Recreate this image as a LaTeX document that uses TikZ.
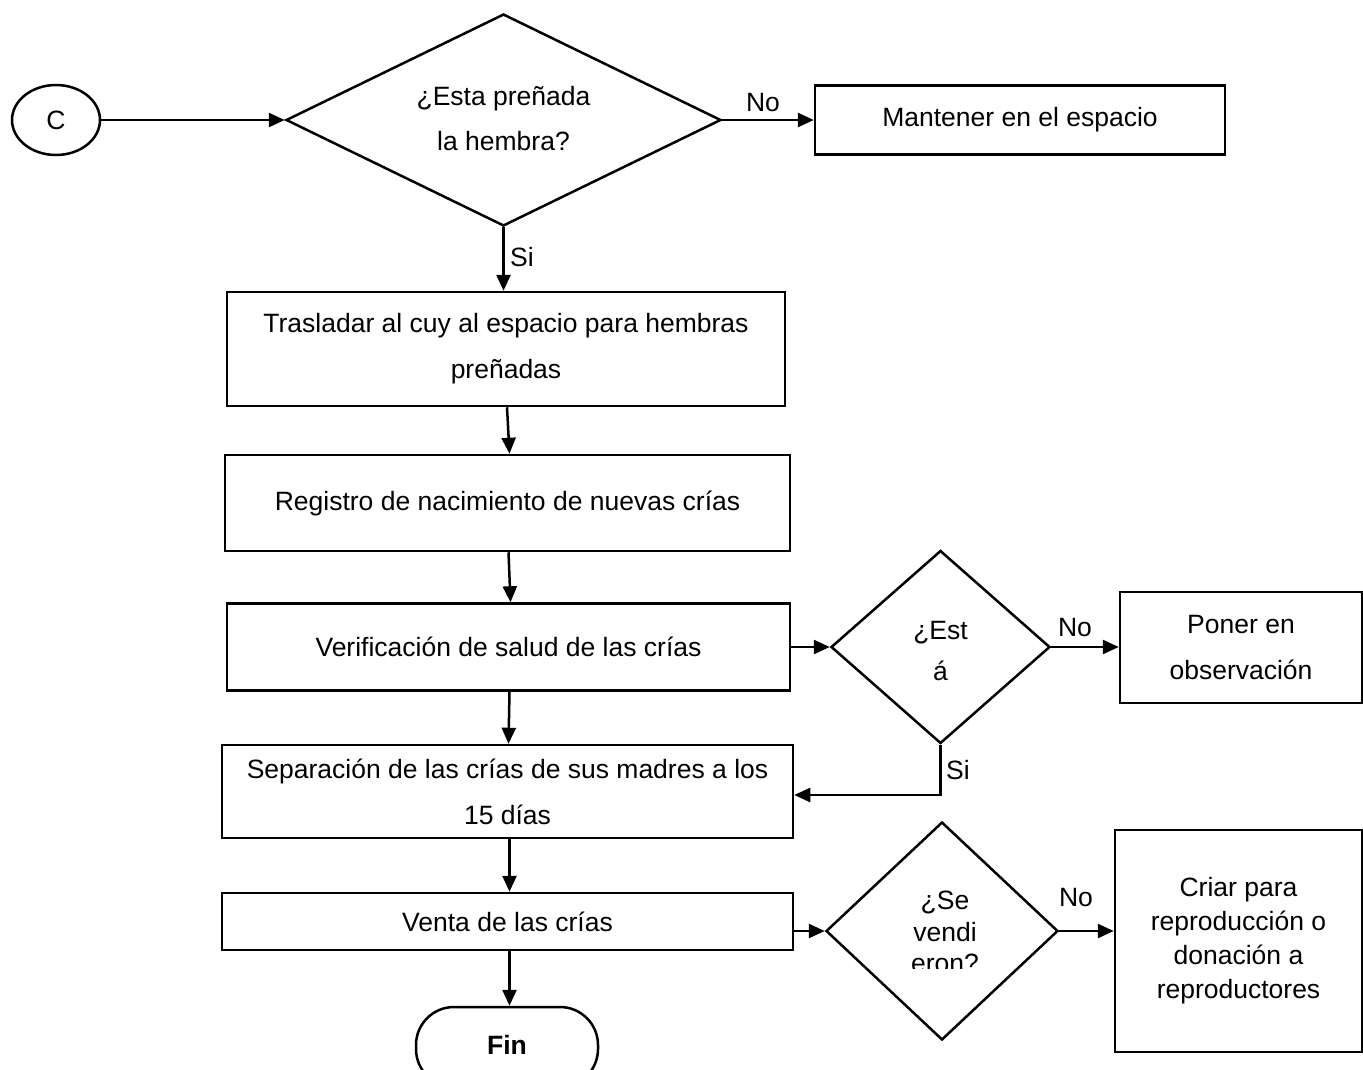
\documentclass[tikz,border=0pt]{standalone}
\usepackage{fontspec}
\setmainfont{Liberation Sans}
\usetikzlibrary{shapes.geometric,arrows.meta,calc}
\begin{document}
\begin{tikzpicture}[x=1pt,y=-1pt,
 every node/.style={font=\fontsize{26.5}{46}\selectfont, inner sep=0pt},
 box/.style={draw, line width=2.5pt, align=center},
 dia/.style={draw, diamond, line width=2.5pt, align=center},
 arr/.style={line width=2.5pt, -{Triangle[length=16pt,width=14pt]}}]
\useasboundingbox (0,0) rectangle (1363,1069);
\clip (0,0) rectangle (1363,1069);

% start
\node[draw, ellipse, line width=2.5pt, minimum width=88pt, minimum height=70pt] (c) at (56,120) {C};

% decision 1
\node[dia, minimum width=435pt, minimum height=212pt] (d1) at (503.5,120) {};
\node[align=center, font=\fontsize{26.5}{45}\selectfont] (d1t) at (503.5,119) {¿Esta preñada\\la hembra?};
\node[box, minimum width=410pt, minimum height=69pt] (m) at (1020,120) {Mantener en el espacio};

% process boxes
\node[box, minimum width=558pt, minimum height=114pt] (t) at (506,349) {Trasladar al cuy al espacio para hembras\\preñadas};
\node[box, minimum width=565pt, minimum height=96pt] (r) at (507.5,503) {Registro de nacimiento de nuevas crías};
\node[box, minimum width=563pt, minimum height=87pt] (v) at (508.5,647) {Verificación de salud de las crías};
\node[box, minimum width=571pt, minimum height=93pt] (s) at (507.5,791.5) {Separación de las crías de sus madres a los\\15 días};
\node[box, minimum width=571pt, minimum height=57pt] (ve) at (507.5,921.5) {Venta de las crías};

% decision 2
\node[dia, minimum width=219pt, minimum height=193pt] (d2) at (940.5,647) {};
\node[align=center, font=\fontsize{26.5}{41}\selectfont] (d2t) at (940.5,651) {¿Est\\á};
\node[box, minimum width=242pt, minimum height=111pt] (p) at (1241,647.5) {Poner en\\observación};

% decision 3
\node[dia, minimum width=232pt, minimum height=218pt] (d3) at (942,931) {};
\begin{scope}
\clip (870,870) rectangle (1015,968);
\node[align=center, font=\fontsize{26.5}{31.5}\selectfont] (d3t) at (945,932) {¿Se\\vendi\\eron?};
\end{scope}
\node[box, minimum width=247pt, minimum height=222pt, font=\fontsize{26.5}{34}\selectfont] (cr) at (1238.5,941) {Criar para\\reproducción o\\donación a\\reproductores};

% end
\node[draw, line width=2.5pt, rounded corners=38pt, minimum width=182pt, minimum height=80pt] (fin) at (507,1047) {};
\node[font=\fontsize{26.5}{30}\selectfont\bfseries] (fint) at (507,1045) {Fin};

% connectors
\draw[arr] (c.east) -- (d1.west);
\draw[arr] (d1.east) -- (m.west);
\draw[arr] (d1.south) -- (d1.south |- t.north);
\draw[arr] ($(t.south)+(1,0)$) -- ($(r.north)+(2,0)$);
\draw[arr] ($(r.south)+(1,0)$) -- ($(v.north)+(2,0)$);
\draw[arr] ($(v.south)+(1,0)$) -- ($(s.north)+(1,0)$);
\draw[arr] ($(s.south)+(2,0)$) -- ($(ve.north)+(2,0)$);
\draw[arr] ($(ve.south)+(2,0)$) -- ($(fin.north)+(2.5,0)$);
\draw[arr] (v.east) -- (d2.west);
\draw[arr] (d2.east) -- (d2.east -| p.west);
\draw[arr] (d2.south) |- ($(s.east)+(0,3.5)$);
\draw[arr] (ve.east |- d3.west) -- (d3.west);
\draw[arr] (d3.east) -- (d3.east -| cr.west);

% labels
\node (l1) at (763,103) {No};
\node (l2) at (522,257) {Si};
\node (l3) at (1075,628) {No};
\node (l4) at (958,770) {Si};
\node (l5) at (1076,897) {No};
\end{tikzpicture}
\end{document}
